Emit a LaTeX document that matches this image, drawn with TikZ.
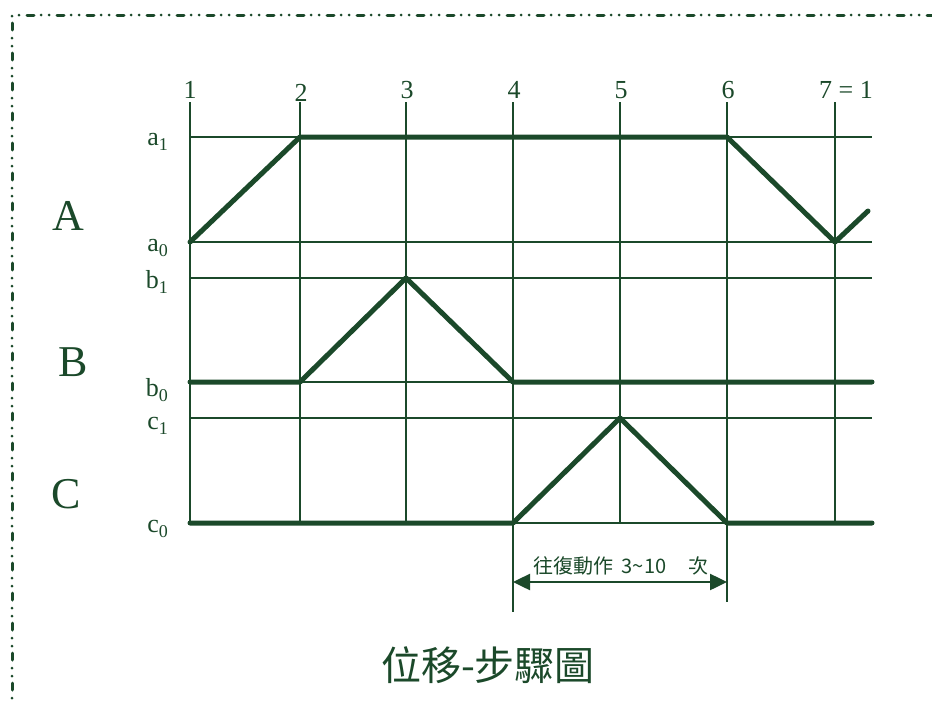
\documentclass[tikz,border=0pt]{standalone}
\usepackage{fontspec}
\setmainfont{Liberation Serif}
\newfontfamily\cjk{Noto Sans CJK TC}
\usetikzlibrary{arrows.meta}
\definecolor{dg}{RGB}{27,73,42}
\tikzset{
  grid/.style={draw=dg, line width=1.8pt},
  curve/.style={draw=dg, line width=5pt, line cap=round, line join=round},
  border/.style={draw=dg, line width=3pt, line cap=round, dash pattern=on 7pt off 7pt on 0pt off 8pt on 0pt off 8pt},
  steplabel/.style={text=dg, font=\fontsize{26}{26}\selectfont, inner sep=0pt},
  biglabel/.style={text=dg, font=\fontsize{44}{44}\selectfont, inner sep=0pt},
  lvlabel/.style={text=dg, font=\fontsize{26}{26}\selectfont, inner sep=0pt, anchor=east},
  bigtri/.tip={Triangle[length=17pt,width=16pt]},
}
\newcommand{\lv}[2]{#1\raisebox{-5pt}{\fontsize{18}{18}\selectfont #2}}
\begin{document}
\begin{tikzpicture}[x=1pt,y=-1pt]
\useasboundingbox (0,0) rectangle (932,704);
% border
\draw[border] (12,720) -- (12,15) -- (945,15);
% columns
\foreach \n/\x in {1/190,2/300,3/406,4/513,5/620,6/727,7/835}{
  \coordinate (t\n) at (\x,102);
  \coordinate (A1\n) at (\x,137);
  \coordinate (A0\n) at (\x,242);
  \coordinate (B1\n) at (\x,278);
  \coordinate (B0\n) at (\x,382);
  \coordinate (C1\n) at (\x,418);
  \coordinate (C0\n) at (\x,523);
}
\coordinate (e4) at (513,612);
\coordinate (e6) at (727,602);
\foreach \r in {A1,A0,B1,B0,C1,C0}{
  \coordinate (\r e) at (872,0 |- \r1);
  \draw[grid] (\r1) -- (\r e);
}
\foreach \n in {1,2,3,5,7}{ \draw[grid] (t\n) -- (C0\n); }
\draw[grid] (t4) -- (e4);
\draw[grid] (t6) -- (e6);
% step labels
\node[steplabel] (s1) at (190,90) {1};
\node[steplabel] (s2) at (301,93) {2};
\node[steplabel] (s3) at (407,90) {3};
\node[steplabel] (s4) at (514,90) {4};
\node[steplabel] (s5) at (621,90) {5};
\node[steplabel] (s6) at (728,90) {6};
\node[steplabel] (s7) at (846,90) {7 = 1};
% level labels
\node[lvlabel] (la1) at (168,142) {\lv{a}{1}};
\node[lvlabel] (la0) at (168,248) {\lv{a}{0}};
\node[lvlabel] (lb1) at (168,282) {\lv{b}{1}};
\node[lvlabel] (lb0) at (168,390) {\lv{b}{0}};
\node[lvlabel] (lc1) at (168,426) {\lv{c}{1}};
\node[lvlabel] (lc0) at (168,529) {\lv{c}{0}};
\node[biglabel] (LA) at (68,216) {A};
\node[biglabel] (LB) at (73,362) {B};
\node[biglabel] (LC) at (66,494) {C};
% motion curves
\draw[curve] (A01) -- (A12) -- (A16) -- (A07) -- (868,211);
\draw[curve] (B01) -- (B02) -- (B13) -- (B04) -- (B0e);
\draw[curve] (C01) -- (C04) -- (C15) -- (C06) -- (C0e);
% repeat arrow
\coordinate (ra) at (513,582);
\coordinate (rb) at (727,582);
\draw[dg, line width=2.5pt, bigtri-bigtri] (ra) -- (rb);
\node[text=dg, font=\cjk\fontsize{20}{20}\selectfont, inner sep=0pt] (rep) at (621,566) {往復動作\hspace{8pt}3\char"7E 10\hspace{22pt}次};
\node[text=dg, font=\cjk\fontsize{40}{40}\selectfont, inner sep=0pt] (title) at (488,665) {位移-步驟圖};
\end{tikzpicture}
\end{document}
